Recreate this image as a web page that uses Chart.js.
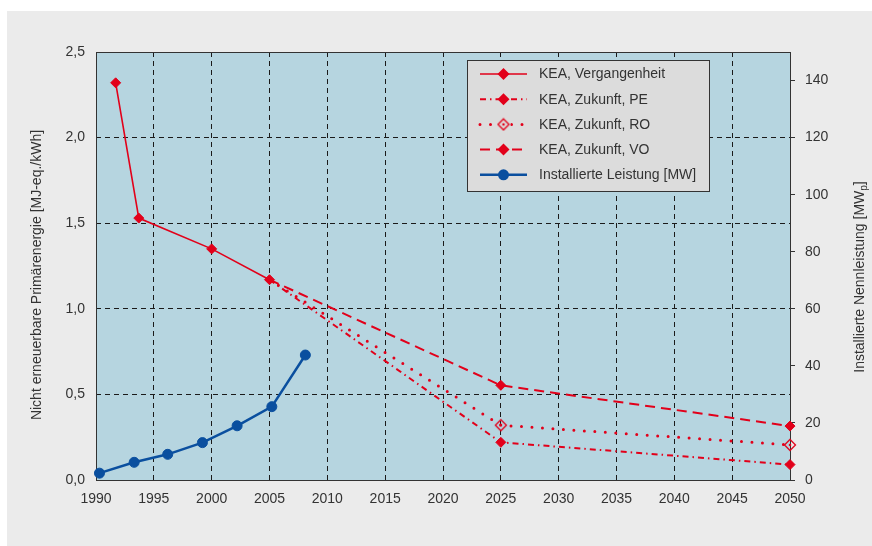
<!DOCTYPE html>
<html>
<head>
<meta charset="utf-8">
<script src="https://cdn.jsdelivr.net/npm/chart.js@4"></script>
<style>
    body { margin: 0; background: #ffffff; }
    #panel { position: absolute; left: 7px; top: 11px; width: 865px; height: 535px; background: #ebebeb; }
    canvas { display: block; }
</style>
</head>
<body>
<div id="panel"><canvas id="chart" width="865" height="535"></canvas></div>

<script>
    // values
    const pastYears = [1991.7, 1993.7, 2000, 2005]
    const keaPast = [2.32, 1.53, 1.35, 1.17]
    const futureYears = [2005, 2025, 2050]
    const keaPE = [1.17, 0.22, 0.09]
    const keaRO = [1.17, 0.32, 0.205]
    const keaVO = [1.17, 0.553, 0.315]
    const mwYears = [1990.3, 1993.3, 1996.2, 1999.2, 2002.2, 2005.2, 2008.1]
    const mwValues = [2.4, 6.2, 9.0, 13.1, 19.0, 25.7, 43.8]
    const seriesNames = ['KEA, Vergangenheit', 'KEA, Zukunft, PE', 'KEA, Zukunft, RO', 'KEA, Zukunft, VO', 'Installierte Leistung [MW]']
    const leftTitle = 'Nicht erneuerbare Primärenergie [MJ-eq./kWh]'
    const rightTitle = 'Installierte Nennleistung [MW'
    const rightTitleSub = 'p'

    const red = '#e2001a'
    const blue = '#0a4f9f'
    const textColor = '#333333'
    const font = '"Liberation Sans", Arial, sans-serif'

    function pairs(xs, ys) {
        return xs.map((x, i) => ({x: x, y: ys[i]}))
    }

    // open diamond with a dot, used for the RO series
    const roMarker = document.createElement('canvas')
    roMarker.width = 14
    roMarker.height = 14
    const mctx = roMarker.getContext('2d')
    mctx.strokeStyle = red
    mctx.lineWidth = 1.3
    mctx.beginPath()
    mctx.moveTo(7, 1.5); mctx.lineTo(12.5, 7); mctx.lineTo(7, 12.5); mctx.lineTo(1.5, 7); mctx.closePath()
    mctx.stroke()
    mctx.fillStyle = red
    mctx.beginPath(); mctx.arc(7, 7, 1.3, 0, Math.PI * 2); mctx.fill()

    const datasets = [{
        label: seriesNames[0],
        data: pairs(pastYears, keaPast),
        yAxisID: 'y',
        borderColor: red, backgroundColor: red,
        borderWidth: 1.6,
        pointStyle: 'rectRot', pointRadius: 5, pointBorderWidth: 1,
        clip: false
    }, {
        label: seriesNames[1],
        data: pairs(futureYears, keaPE),
        yAxisID: 'y',
        borderColor: red, backgroundColor: red,
        borderWidth: 2, borderDash: [6, 4, 1.5, 4],
        pointStyle: 'rectRot', pointRadius: [0, 5, 5], pointBorderWidth: 1,
        clip: false
    }, {
        label: seriesNames[2],
        data: pairs(futureYears, keaRO),
        yAxisID: 'y',
        borderColor: red, backgroundColor: red,
        borderWidth: 3, borderDash: [0, 10.5], borderCapStyle: 'round',
        pointStyle: roMarker, pointRadius: [0, 5, 5],
        clip: false
    }, {
        label: seriesNames[3],
        data: pairs(futureYears, keaVO),
        yAxisID: 'y',
        borderColor: red, backgroundColor: red,
        borderWidth: 2, borderDash: [10, 6],
        pointStyle: 'rectRot', pointRadius: [0, 5, 5], pointBorderWidth: 1,
        clip: false
    }, {
        label: seriesNames[4],
        data: pairs(mwYears, mwValues),
        yAxisID: 'y2',
        borderColor: blue, backgroundColor: blue,
        borderWidth: 2.5,
        pointStyle: 'circle', pointRadius: 5, pointBorderWidth: 1,
        clip: false
    }]

    const plotBackground = {
        id: 'plotBackground',
        beforeDraw(chart) {
            const {ctx, chartArea: a} = chart
            ctx.save()
            ctx.fillStyle = '#b6d5e0'
            ctx.fillRect(a.left, a.top, a.right - a.left, a.bottom - a.top)
            ctx.restore()
        },
        beforeDatasetsDraw(chart) {
            const {ctx, chartArea: a} = chart
            ctx.save()
            ctx.strokeStyle = '#333333'
            ctx.lineWidth = 1
            ctx.strokeRect(a.left + 0.5, a.top + 0.5, a.right - a.left, a.bottom - a.top)
            ctx.restore()
        }
    }

    const axisTitles = {
        id: 'axisTitles',
        afterDraw(chart) {
            const ctx = chart.ctx
            ctx.save()
            ctx.fillStyle = textColor
            ctx.font = '14px ' + font
            ctx.textAlign = 'center'
            ctx.textBaseline = 'middle'
            ctx.translate(30, 264)
            ctx.rotate(-Math.PI / 2)
            ctx.fillText(leftTitle, 0, 0)
            ctx.restore()

            ctx.save()
            ctx.fillStyle = textColor
            ctx.font = '14px ' + font
            ctx.textBaseline = 'middle'
            const w1 = ctx.measureText(rightTitle).width
            ctx.font = '10px ' + font
            const w2 = ctx.measureText(rightTitleSub).width
            ctx.font = '14px ' + font
            const w3 = ctx.measureText(']').width
            const total = w1 + w2 + w3
            ctx.translate(853, 266)
            ctx.rotate(-Math.PI / 2)
            let x = -total / 2
            ctx.fillText(rightTitle, x, 0)
            x += w1
            ctx.font = '10px ' + font
            ctx.fillText(rightTitleSub, x, 4)
            x += w2
            ctx.font = '14px ' + font
            ctx.fillText(']', x, 0)
            ctx.restore()
        }
    }

    const boxLegend = {
        id: 'boxLegend',
        afterDraw(chart) {
            const ctx = chart.ctx
            ctx.save()
            ctx.fillStyle = '#dcdcdc'
            ctx.fillRect(460, 49, 242, 131)
            ctx.strokeStyle = '#333333'
            ctx.lineWidth = 1
            ctx.strokeRect(460.5, 49.5, 242, 131)
            chart.data.datasets.forEach((ds, i) => {
                const y = 63 + i * 25.2
                ctx.save()
                ctx.strokeStyle = ds.borderColor
                ctx.lineWidth = ds.borderWidth
                ctx.lineCap = ds.borderCapStyle || 'butt'
                ctx.setLineDash(ds.borderDash || [])
                ctx.beginPath()
                ctx.moveTo(473, y)
                ctx.lineTo(520, y)
                ctx.stroke()
                ctx.restore()
                const mx = 496.5
                ctx.fillStyle = ds.borderColor
                if (ds.pointStyle === 'rectRot') {
                    ctx.beginPath()
                    ctx.moveTo(mx, y - 6); ctx.lineTo(mx + 6, y); ctx.lineTo(mx, y + 6); ctx.lineTo(mx - 6, y)
                    ctx.closePath()
                    ctx.fill()
                } else if (ds.pointStyle === 'circle') {
                    ctx.beginPath()
                    ctx.arc(mx, y, 5.5, 0, Math.PI * 2)
                    ctx.fill()
                } else {
                    ctx.fillStyle = '#dcdcdc'
                    ctx.fillRect(mx - 7, y - 7, 14, 14)
                    ctx.drawImage(roMarker, mx - 7, y - 7)
                }
                ctx.fillStyle = textColor
                ctx.font = '14px ' + font
                ctx.textBaseline = 'middle'
                ctx.fillText(ds.label, 532, y + 0.5)
            })
            ctx.restore()
        }
    }

    const chart = new Chart(document.getElementById('chart'), {
        type: 'line',
        data: {datasets: datasets},
        options: {
            responsive: false,
            animation: false,
            devicePixelRatio: 1,
            layout: {padding: {left: 0, right: 0, top: 41, bottom: 0}},
            plugins: {
                legend: {display: false},
                tooltip: {enabled: false}
            },
            scales: {
                x: {
                    type: 'linear',
                    min: 1990, max: 2050,
                    afterFit: (s) => { s.height = 66 },
                    ticks: {
                        stepSize: 5, maxRotation: 0, padding: 11,
                        color: textColor, font: {family: font, size: 14},
                        callback: (v) => String(v)
                    },
                    grid: {color: '#1a1a1a', lineWidth: 1, drawTicks: false},
                    border: {display: false, dash: [5, 4]}
                },
                y: {
                    position: 'left',
                    min: 0, max: 2.5,
                    afterFit: (s) => { s.width = 89 },
                    ticks: {
                        stepSize: 0.5, padding: 11,
                        color: textColor, font: {family: font, size: 14},
                        callback: (v) => v.toFixed(1).replace('.', ',')
                    },
                    grid: {color: '#1a1a1a', lineWidth: 1, drawTicks: false},
                    border: {display: false, dash: [5, 4]}
                },
                y2: {
                    position: 'right',
                    min: 0, max: 150,
                    afterFit: (s) => { s.width = 82 },
                    afterBuildTicks: (s) => { s.ticks = s.ticks.filter((t) => t.value <= 140) },
                    ticks: {
                        stepSize: 20, padding: 10,
                        color: textColor, font: {family: font, size: 14}
                    },
                    grid: {drawOnChartArea: false, drawTicks: true, tickLength: 5, color: '#333333'},
                    border: {display: false}
                }
            }
        },
        plugins: [plotBackground, axisTitles, boxLegend]
    })
</script>
</body>
</html>
